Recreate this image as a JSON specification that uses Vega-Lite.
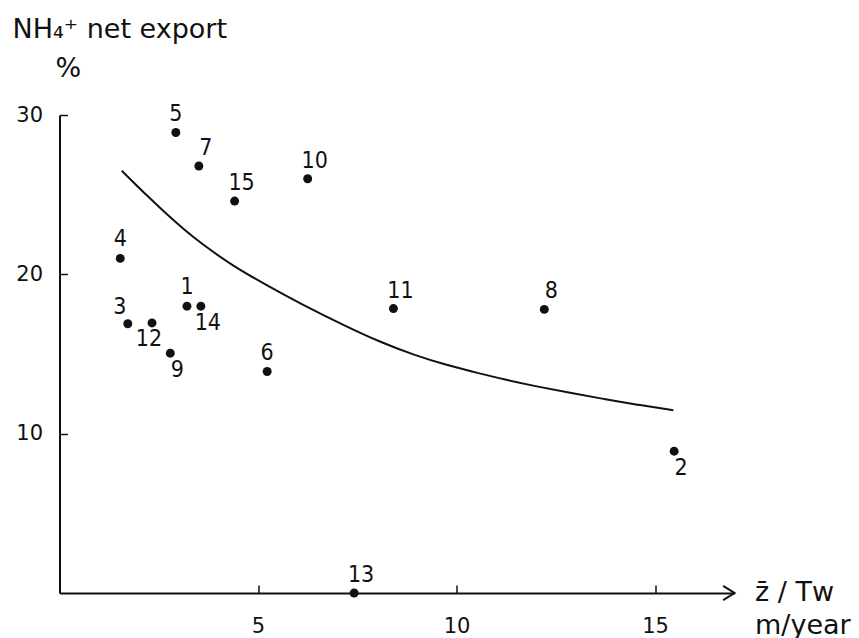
{
  "$schema": "https://vega.github.io/schema/vega-lite/v6.json",
  "width": 675,
  "height": 478,
  "autosize": {"type": "none"},
  "padding": {"left": 59.5, "top": 115, "right": 124.5, "bottom": 45},
  "background": "white",
  "config": {
    "view": {"stroke": null},
    "font": "DejaVu Sans",
    "axis": {
      "domainColor": "#111",
      "domainWidth": 2,
      "tickColor": "#111",
      "tickWidth": 1.5,
      "labelColor": "#111",
      "titleColor": "#111",
      "labelFont": "DejaVu Sans",
      "titleFont": "DejaVu Sans",
      "labelFontSize": 21,
      "titleFontWeight": "normal",
      "grid": false
    }
  },
  "datasets": {
    "pts": [
      {"site": "1", "x": 3.21, "y": 18.0},
      {"site": "2", "x": 15.48, "y": 8.9},
      {"site": "3", "x": 1.72, "y": 16.9},
      {"site": "4", "x": 1.53, "y": 21.0},
      {"site": "5", "x": 2.93, "y": 28.9},
      {"site": "6", "x": 5.23, "y": 13.9},
      {"site": "7", "x": 3.51, "y": 26.8},
      {"site": "8", "x": 12.21, "y": 17.8},
      {"site": "9", "x": 2.79, "y": 15.05},
      {"site": "10", "x": 6.25, "y": 26.0},
      {"site": "11", "x": 8.41, "y": 17.85},
      {"site": "12", "x": 2.33, "y": 16.95},
      {"site": "13", "x": 7.42, "y": 0.0},
      {"site": "14", "x": 3.56, "y": 18.0},
      {"site": "15", "x": 4.41, "y": 24.6}
    ],
    "curve": [
      {"x": 1.57, "y": 26.5},
      {"x": 2.28, "y": 24.75},
      {"x": 2.7, "y": 23.78},
      {"x": 3.12, "y": 22.85},
      {"x": 3.54, "y": 21.99},
      {"x": 4.38, "y": 20.5},
      {"x": 5.22, "y": 19.32},
      {"x": 6.06, "y": 18.17},
      {"x": 7.23, "y": 16.72},
      {"x": 8.07, "y": 15.76},
      {"x": 8.91, "y": 14.95},
      {"x": 9.75, "y": 14.3},
      {"x": 10.59, "y": 13.77},
      {"x": 11.18, "y": 13.41},
      {"x": 12.02, "y": 12.96},
      {"x": 12.86, "y": 12.56},
      {"x": 13.7, "y": 12.18},
      {"x": 14.54, "y": 11.82},
      {"x": 15.46, "y": 11.47}
    ],
    "arrow": [{"x": 17.0, "y": 0}]
  },
  "layer": [
    {
      "data": {"name": "curve"},
      "mark": {"type": "line", "color": "#111", "strokeWidth": 2, "interpolate": "basis"},
      "encoding": {
        "x": {"field": "x", "type": "quantitative", "scale": {"domain": [0, 17], "nice": false, "zero": false},
          "axis": {
            "values": [5, 10, 15],
            "tickSize": -8,
            "labelPadding": 30,
            "title": ["z̄ / Tᴡ", "m/year"],
            "titleFontSize": 27,
            "titleAngle": 0,
            "titleAlign": "left",
            "titleBaseline": "alphabetic",
            "titleX": 695,
            "titleY": 7,
            "titleLineHeight": 33
          }
        },
        "y": {"field": "y", "type": "quantitative", "scale": {"domain": [0, 30], "nice": false},
          "axis": {
            "values": [10, 20, 30],
            "tickSize": -8,
            "labelPadding": 25,
            "title": ["NH₄⁺ net export", "\u200d\u00a0\u00a0\u00a0\u00a0\u00a0%"],
            "titleFontSize": 27,
            "titleAngle": 0,
            "titleAlign": "left",
            "titleBaseline": "alphabetic",
            "titleX": -47.5,
            "titleY": -78,
            "titleLineHeight": 39
          }
        }
      }
    },
    {
      "data": {"name": "pts"},
      "mark": {"type": "point", "filled": true, "color": "#111", "size": 80, "opacity": 1},
      "encoding": {
        "x": {"field": "x", "type": "quantitative"},
        "y": {"field": "y", "type": "quantitative"}
      }
    },
    {
      "data": {"name": "pts"},
      "transform": [{"filter": {"field": "site", "oneOf": ["5", "4", "1", "6"]}}],
      "mark": {"type": "text", "font": "DejaVu Sans Condensed", "fontSize": 23, "color": "#111", "dx": 0, "dy": -19, "align": "center", "baseline": "middle"},
      "encoding": {
        "x": {"field": "x", "type": "quantitative"},
        "y": {"field": "y", "type": "quantitative"},
        "text": {"field": "site"}
      }
    },
    {
      "data": {"name": "pts"},
      "transform": [{"filter": {"field": "site", "oneOf": ["7", "15", "10", "11", "8", "13"]}}],
      "mark": {"type": "text", "font": "DejaVu Sans Condensed", "fontSize": 23, "color": "#111", "dx": 7, "dy": -18, "align": "center", "baseline": "middle"},
      "encoding": {
        "x": {"field": "x", "type": "quantitative"},
        "y": {"field": "y", "type": "quantitative"},
        "text": {"field": "site"}
      }
    },
    {
      "data": {"name": "pts"},
      "transform": [{"filter": {"field": "site", "oneOf": ["3"]}}],
      "mark": {"type": "text", "font": "DejaVu Sans Condensed", "fontSize": 23, "color": "#111", "dx": -8, "dy": -17, "align": "center", "baseline": "middle"},
      "encoding": {
        "x": {"field": "x", "type": "quantitative"},
        "y": {"field": "y", "type": "quantitative"},
        "text": {"field": "site"}
      }
    },
    {
      "data": {"name": "pts"},
      "transform": [{"filter": {"field": "site", "oneOf": ["14", "2", "9"]}}],
      "mark": {"type": "text", "font": "DejaVu Sans Condensed", "fontSize": 23, "color": "#111", "dx": 7, "dy": 17, "align": "center", "baseline": "middle"},
      "encoding": {
        "x": {"field": "x", "type": "quantitative"},
        "y": {"field": "y", "type": "quantitative"},
        "text": {"field": "site"}
      }
    },
    {
      "data": {"name": "pts"},
      "transform": [{"filter": {"field": "site", "oneOf": ["12"]}}],
      "mark": {"type": "text", "font": "DejaVu Sans Condensed", "fontSize": 23, "color": "#111", "dx": -3, "dy": 16, "align": "center", "baseline": "middle"},
      "encoding": {
        "x": {"field": "x", "type": "quantitative"},
        "y": {"field": "y", "type": "quantitative"},
        "text": {"field": "site"}
      }
    },
    {
      "data": {"name": "arrow"},
      "mark": {"type": "point", "shape": "M-1.6,-1L0,0L-1.6,1", "filled": false, "stroke": "#111", "strokeWidth": 2, "size": 200, "opacity": 1},
      "encoding": {
        "x": {"field": "x", "type": "quantitative"},
        "y": {"field": "y", "type": "quantitative"}
      }
    }
  ]
}
